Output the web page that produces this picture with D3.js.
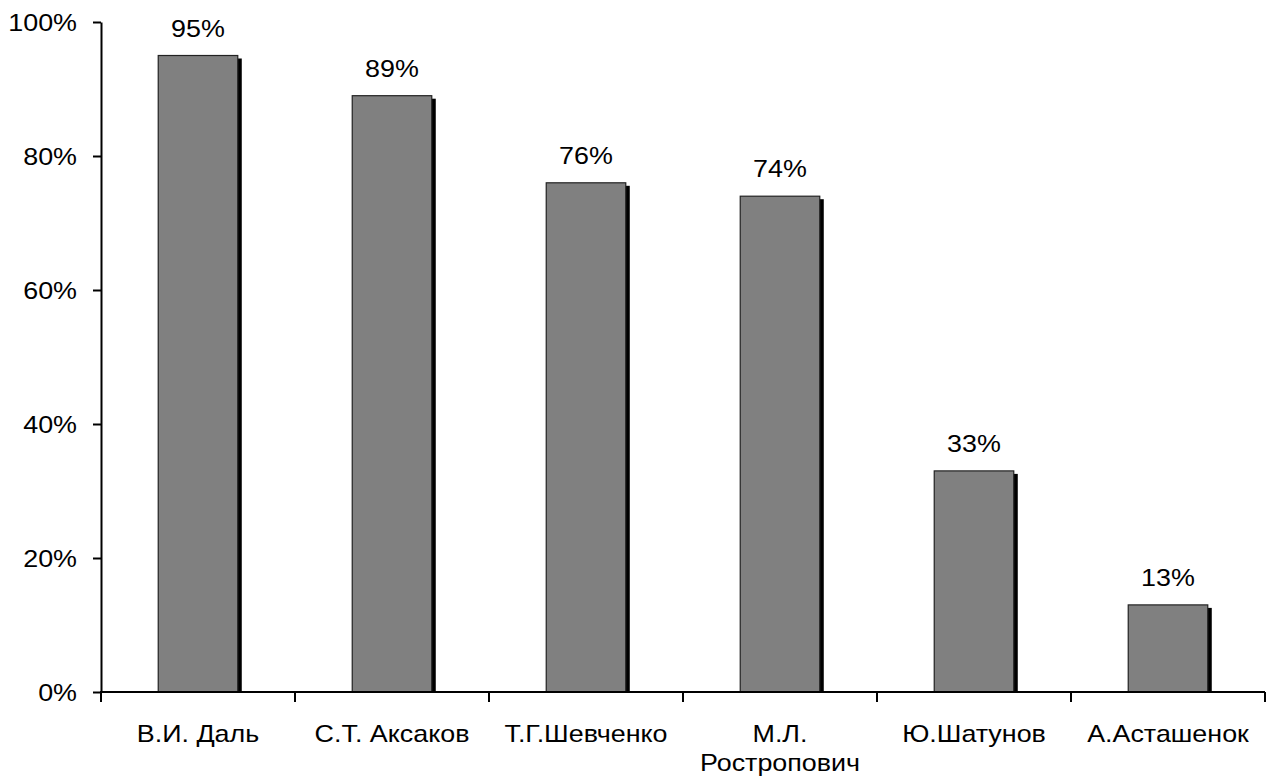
<!DOCTYPE html>
<html><head><meta charset="utf-8">
<script src="https://cdn.jsdelivr.net/npm/d3@7"></script>
<style>body{margin:0;background:#fff}svg{display:block}text{font-family:"Liberation Sans",Arial,sans-serif;fill:#000}</style>
</head><body><svg id="c" width="1268" height="778"></svg>
<script>
const categories = ["В.И. Даль","С.Т. Аксаков","Т.Г.Шевченко","М.Л. Ростропович","Ю.Шатунов","А.Асташенок"];
const values = [95, 89, 76, 74, 33, 13];
const yTicks = [0, 20, 40, 60, 80, 100];

const svg = d3.select("#c");
const FS = 24, SX = 1.12;
const x = d3.scaleBand().domain(categories).range([101, 1265]).paddingInner(0.59).paddingOuter(0.295);
const band = d3.scaleBand().domain(categories).range([101, 1265]);
const y = d3.scaleLinear().domain([0, 100]).range([692, 22]);

// shadows
svg.selectAll("rect.sh").data(values).join("rect")
  .attr("x", (d,i)=>x(categories[i]) + 4).attr("y", d=>y(d)+3)
  .attr("width", x.bandwidth()).attr("height", d=>y(0)-y(d)-3)
  .attr("fill", "#000");
// bars
svg.selectAll("rect.bar").data(values).join("rect")
  .attr("x", (d,i)=>x(categories[i])).attr("y", d=>y(d))
  .attr("width", x.bandwidth()).attr("height", d=>y(0)-y(d))
  .attr("fill", "#808080").attr("stroke", "#222").attr("stroke-width", 1.2);

// y axis
const ya = svg.append("g").attr("transform","translate(101,0)")
  .call(d3.axisLeft(y).tickValues(yTicks).tickSize(8).tickSizeOuter(0).tickFormat(d=>d+"%"));
ya.select(".domain").attr("stroke","#000").attr("stroke-width",2);
ya.selectAll(".tick line").attr("stroke","#000").attr("stroke-width",2);
ya.selectAll(".tick text").attr("font-size",FS).attr("x",0).attr("dy",null).attr("dominant-baseline",null)
  .attr("y",8.5).attr("text-anchor","end")
  .attr("transform", `translate(-24,0) scale(${SX},1)`);

// x axis
const xa = svg.append("g").attr("transform","translate(0,692)");
xa.append("line").attr("x1",100).attr("x2",1265).attr("stroke","#000").attr("stroke-width",2);
const bounds = categories.map(c=>band(c)).concat([band.range()[1]]);
xa.selectAll("line.t").data(bounds).join("line")
  .attr("x1",d=>d).attr("x2",d=>d).attr("y1",0).attr("y2",10).attr("stroke","#000").attr("stroke-width",2);

// category labels with wrapping
categories.forEach(c=>{
  const cx = band(c) + band.bandwidth()/2;
  const g = svg.append("g").attr("transform",`translate(${cx},0) scale(${SX},1)`);
  const words = c.split(" ");
  const lines = [];
  let cur = "";
  const probe = g.append("text").attr("font-size",FS);
  words.forEach(w=>{
    const t = cur ? cur + " " + w : w;
    probe.text(t);
    if (cur && probe.node().getComputedTextLength()*SX > band.bandwidth()-4) { lines.push(cur); cur = w; }
    else cur = t;
  });
  lines.push(cur);
  probe.remove();
  lines.forEach((l,k)=>{
    g.append("text").attr("font-size",FS).attr("text-anchor","middle").attr("y",742 + k*29).text(l);
  });
});

// value labels
values.forEach((v,i)=>{
  const cx = x(categories[i]) + x.bandwidth()/2;
  svg.append("g").attr("transform",`translate(${cx},${y(v)-19}) scale(${SX},1)`)
    .append("text").attr("font-size",FS).attr("text-anchor","middle").text(v+"%");
});
</script></body></html>
